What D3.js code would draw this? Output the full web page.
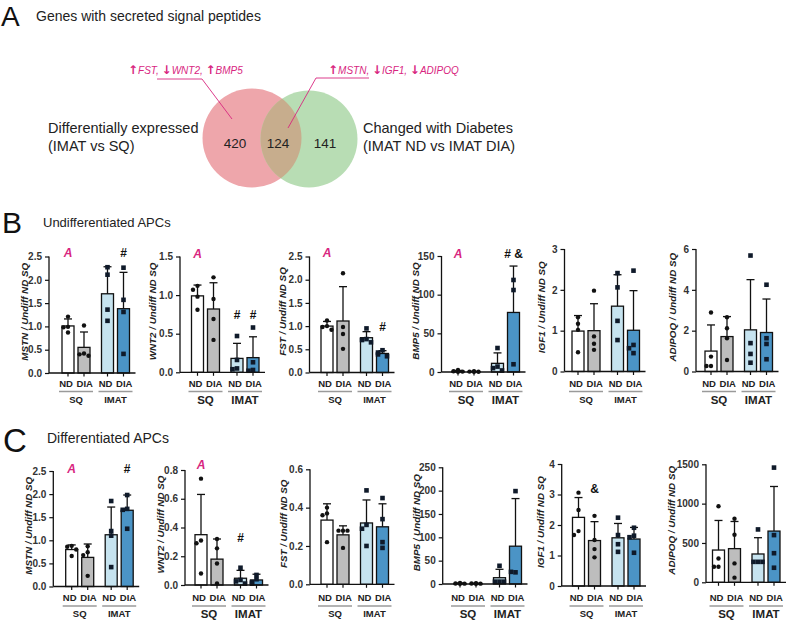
<!DOCTYPE html>
<html><head><meta charset="utf-8">
<script src="https://cdn.jsdelivr.net/npm/d3@7"></script>
<style>body{margin:0;background:#fff}</style>
</head><body><svg id="c" width="787" height="620"></svg>
<script>
// ---------------- DATA ----------------
const groups = ["ND SQ", "DIA SQ", "ND IMAT", "DIA IMAT"];
const conditionLabels = ["ND", "DIA", "ND", "DIA"];
const depotLabels = ["SQ", "IMAT"];
const genes = ["MSTN", "WNT2", "FST", "BMP5", "IGF1", "ADIPOQ"];

const vennCounts = [420, 124, 141];
const vennLeftLabel = ["Differentially expressed", "(IMAT vs SQ)"];
const vennRightLabel = ["Changed with Diabetes", "(IMAT ND vs IMAT DIA)"];

// Undifferentiated APCs (panel B)
const undiffTicks = [[0,0.5,1,1.5,2,2.5],[0,0.5,1,1.5],[0,0.5,1,1.5,2,2.5],[0,50,100,150],[0,1,2,3],[0,2,4,6]];
const undiffFormats = [".1f", ".1f", ".1f", "d", "d", "d"];
const undiffMeans = [
  [1.01, 0.55, 1.70, 1.38],
  [0.99, 0.82, 0.18, 0.19],
  [1.00, 1.11, 0.75, 0.41],
  [1.0, 0.5, 11.2, 77],
  [0.99, 1.00, 1.60, 1.01],
  [1.00, 1.71, 2.04, 1.91]
];
const undiffSD = [
  [0.15, 0.33, 0.58, 0.78],
  [0.14, 0.34, 0.195, 0.27],
  [0.10, 0.74, 0.13, 0.06],
  [1.0, 0.5, 13.5, 60],
  [0.38, 0.66, 0.77, 0.97],
  [1.28, 0.98, 2.46, 1.64]
];
const undiffPoints = [
  [[1.21,0.99,0.98,0.87],[1.02,0.42,0.40,0.37],[2.27,2.11,1.36,1.12],[2.26,1.57,1.31,0.41]],
  [[1.12,1.07,0.98,0.81],[1.23,0.95,0.69,0.42],[0.47,0.16,0.05,0.04],[0.58,0.13,0.03,0.02]],
  [[1.12,1.00,0.98,0.92],[2.14,0.98,0.83,0.51],[0.95,0.72,0.70,0.65],[0.48,0.43,0.39,0.35]],
  [[2.5,1.0,0.5,0.2],[1.0,0.5,0.3,0.2],[31,7,5,2],[119,106,10]],
  [[1.33,1.17,1.02,0.47],[1.98,0.86,0.68,0.53],[2.41,2.06,1.24,0.77],[2.47,0.65,0.57,0.45]],
  [[2.89,0.73,0.27,0.27],[2.66,2.12,1.63,0.56],[5.68,1.39,0.86,0.43],[4.25,1.63,1.35,0.60]]
];
// significance marks: [group index, text, value level]
const undiffSig = [
  [[0,"A",2.57],[3,"#",2.57]],
  [[0,"A",1.54],[2,"#",0.74],[3,"#",0.74]],
  [[0,"A",2.58],[3,"#",0.98]],
  [[0,"A",153],[3,"# &",153]],
  [],
  []
];

// Differentiated APCs (panel C)
const diffTicks = [[0,0.5,1,1.5,2,2.5],[0,0.2,0.4,0.6,0.8],[0,0.2,0.4,0.6],[0,50,100,150,200,250],[0,1,2,3,4],[0,500,1000,1500]];
const diffFormats = [".1f", ".1f", ".1f", "d", "d", "d"];
const diffMeans = [
  [0.80, 0.63, 1.12, 1.65],
  [0.35, 0.18, 0.047, 0.035],
  [0.335, 0.258, 0.32, 0.30],
  [1.2, 1.0, 13.5, 81],
  [2.25, 1.49, 1.58, 1.54],
  [410, 428, 360, 651]
];
const diffSD = [
  [0.10, 0.29, 0.60, 0.33],
  [0.28, 0.14, 0.055, 0.04],
  [0.085, 0.047, 0.12, 0.12],
  [1.0, 0.8, 18, 102],
  [0.65, 0.62, 0.47, 0.38],
  [376, 345, 207, 567]
];
const diffPoints = [
  [[0.88,0.86,0.80,0.66],[0.87,0.74,0.68,0.23],[1.85,1.20,1.10,0.42],[1.98,1.68,1.66,1.25]],
  [[0.74,0.31,0.29,0.08],[0.32,0.255,0.15,0.01],[0.12,0.035,0.025,0.01],[0.07,0.04,0.02,0.01]],
  [[0.40,0.37,0.36,0.22],[0.28,0.28,0.28,0.19],[0.49,0.31,0.29,0.20],[0.45,0.34,0.22,0.19]],
  [[2.5,1.0,0.8,0.5],[1.5,1.0,0.8,0.6],[39,5,5,5],[199,25,26]],
  [[3.06,2.49,1.80,1.67],[2.30,1.51,1.21,0.94],[2.24,1.67,1.37,1.12],[1.91,1.65,1.60,1.09]],
  [[966,302,197,197],[807,605,240,59],[672,260,260,260],[1458,600,370,185]]
];
const diffSig = [
  [[0,"A",2.55],[3,"#",2.55]],
  [[0,"A",0.835],[2,"#",0.33]],
  [],
  [],
  [[1,"&",3.18]],
  []
];

// ---------------- STYLE / LAYOUT ----------------
const barColors = ["#ffffff", "#bdbdbd", "#c6e3ef", "#4b94c6"];
const pink = "#d8267f";
const slotOffsets = [0, 16, 39.5, 55.5];
const barW = 12;
const FONT = "'Liberation Sans', Arial, sans-serif";

const rowB = {
  axisX: [49, 180, 309.5, 441.5, 564.5, 696],
  firstOff: [19, 17.5, 17.5, 16.5, 13.5, 15],
  top: [256.5, 256.5, 256.5, 256, 249, 249],
  base: [373, 372.3, 372.5, 372, 371.5, 371.5],
  labOff: [24, 27, 26.5, 25.5, 23, 23],
  condY: 387, lineY: 391.5, depotY: 404
};
const rowC = {
  axisX: [53.3, 185, 310, 442.7, 561.7, 706],
  firstOff: [18.4, 16, 17, 17.3, 16.8, 12.5],
  top: [471, 470, 469.3, 467.3, 464, 464.3],
  base: [586.5, 585, 584.3, 584, 586, 582.3],
  labOff: [25, 24, 26.5, 26, 21, 34],
  condY: 601, lineY: 606, depotY: 618
};

const svg = d3.select("#c");
svg.append("rect").attr("width",787).attr("height",620).attr("fill","#fff");

// ---------------- PANEL A ----------------
svg.append("text").attr("x",1).attr("y",25.5).style("font",`28px ${FONT}`).attr("fill","#111").text("A");
svg.append("text").attr("x",36).attr("y",21).style("font",`14px ${FONT}`).attr("fill","#222").text("Genes with secreted signal peptides");

const defs = svg.append("defs");
defs.append("clipPath").attr("id","pinkClip").append("circle").attr("cx",252).attr("cy",138).attr("r",49.5);
svg.append("circle").attr("cx",252).attr("cy",138).attr("r",49.5).attr("fill","#eea6ab");
svg.append("circle").attr("cx",309).attr("cy",139).attr("r",48.5).attr("fill","#b8ddb4");
svg.append("circle").attr("cx",309).attr("cy",139).attr("r",48.5).attr("fill","#c7ad8d").attr("clip-path","url(#pinkClip)");

const vennX = [235, 278, 325];
vennCounts.forEach((c,i)=>{
  svg.append("text").attr("x",vennX[i]).attr("y",148).attr("text-anchor","middle")
    .style("font",`13.5px ${FONT}`).attr("fill","#222").text(c);
});
vennLeftLabel.forEach((t,i)=>{
  svg.append("text").attr("x",48).attr("y",133+i*18).style("font",`14.5px ${FONT}`).attr("fill","#222").text(t);
});
vennRightLabel.forEach((t,i)=>{
  svg.append("text").attr("x",363).attr("y",133+i*18).style("font",`14.5px ${FONT}`).attr("fill","#222").text(t);
});

function annot(x, y, parts){
  const t = svg.append("text").attr("x",x).attr("y",y).style("font",`italic 10px ${FONT}`).attr("fill",pink);
  parts.forEach(p=>{
    const ts = t.append("tspan").text(p[0]);
    if (p[1]) ts.style("font",`bold 12px 'DejaVu Sans', ${FONT}`);
  });
}
annot(128, 74, [["↑",1],["FST, ",0],["↓",1],["WNT2, ",0],["↑",1],["BMP5",0]]);
annot(328, 74, [["↑",1],["MSTN, ",0],["↓",1],["IGF1, ",0],["↓",1],["ADIPOQ",0]]);
svg.append("polyline").attr("points","157,79 202,79 232,119").attr("fill","none").attr("stroke",pink).attr("stroke-width",0.9);
svg.append("polyline").attr("points","369,78 316,78 288,128").attr("fill","none").attr("stroke",pink).attr("stroke-width",0.9);

// ---------------- PANELS B & C ----------------
svg.append("text").attr("x",2).attr("y",233).style("font",`30px ${FONT}`).attr("fill","#111").text("B");
svg.append("text").attr("x",43).attr("y",227).style("font",`13px ${FONT}`).attr("fill","#222").text("Undifferentiated APCs");
svg.append("text").attr("x",3).attr("y",452).style("font",`33px ${FONT}`).attr("fill","#111").text("C");
svg.append("text").attr("x",47).attr("y",443).style("font",`14px ${FONT}`).attr("fill","#222").text("Differentiated APCs");

function drawRow(cfg, ticks, fmts, means, sds, pts, sigs){
  genes.forEach((gene, i)=>{
    const ax = cfg.axisX[i], base = cfg.base[i], top = cfg.top[i];
    const y = d3.scaleLinear().domain([0, d3.max(ticks[i])]).range([base, top]);
    const x = d3.scaleOrdinal().domain(groups).range(slotOffsets.map(o => ax + cfg.firstOff[i] + o));
    const g = svg.append("g");

    // bars
    g.selectAll("rect.bar").data(groups).join("rect").attr("class","bar")
      .attr("x", d => x(d) - barW/2)
      .attr("y", (d,j) => y(means[i][j]))
      .attr("width", barW)
      .attr("height", (d,j) => Math.max(0, base - y(means[i][j])))
      .attr("fill", (d,j) => barColors[j])
      .attr("stroke", "#111").attr("stroke-width", 1.3);

    // error bars (upper only)
    groups.forEach((d,j)=>{
      const y0 = y(means[i][j]), y1 = y(means[i][j] + sds[i][j]);
      g.append("line").attr("x1",x(d)).attr("x2",x(d)).attr("y1",y0).attr("y2",y1).attr("stroke","#111").attr("stroke-width",1.3);
      g.append("line").attr("x1",x(d)-4).attr("x2",x(d)+4).attr("y1",y1).attr("y2",y1).attr("stroke","#111").attr("stroke-width",1.3);
    });

    // individual points
    groups.forEach((d,j)=>{
      const placed = [];
      pts[i][j].forEach(v=>{
        const py = y(v);
        const k = placed.filter(p => Math.abs(p - py) < 4).length;
        placed.push(py);
        const off = [0, -4.5, 4.5, 0][k % 4];
        const px = x(d) + off;
        if (j < 2) {
          g.append("circle").attr("cx",px).attr("cy",py).attr("r",2.2).attr("fill","#111");
        } else {
          g.append("rect").attr("x",px-2.3).attr("y",py-2.3).attr("width",4.6).attr("height",4.6).attr("fill","#0f1a2a");
        }
      });
    });

    // y axis
    const yAxis = d3.axisLeft(y).tickValues(ticks[i]).tickFormat(d3.format(fmts[i])).tickSize(4).tickPadding(3);
    const ag = g.append("g").attr("transform",`translate(${ax},0)`).call(yAxis);
    ag.select(".domain").attr("stroke","#111").attr("stroke-width",1.3).attr("d",`M0,${base}V${top}`);
    ag.selectAll(".tick line").attr("stroke","#111").attr("stroke-width",1.2);
    ag.selectAll(".tick text").style("font",`bold 10px ${FONT}`).attr("fill","#333");

    // x axis
    const xEnd = x(groups[3]) + 12;
    g.append("line").attr("x1",ax).attr("x2",xEnd).attr("y1",base).attr("y2",base).attr("stroke","#111").attr("stroke-width",1.3);
    groups.forEach(d=>{
      g.append("line").attr("x1",x(d)).attr("x2",x(d)).attr("y1",base).attr("y2",base+3.5).attr("stroke","#111").attr("stroke-width",1.2);
    });
    groups.forEach((d,j)=>{
      g.append("text").attr("x",x(d) + (j % 2 === 0 ? -2 : 0.8)).attr("y",cfg.condY).attr("text-anchor","middle")
        .style("font",`bold 9.5px ${FONT}`).attr("fill","#222").text(conditionLabels[j]);
    });
    const depotSize = (i % 2 === 1) ? 11.5 : 9.5;
    depotLabels.forEach((dl,k)=>{
      const a = x(groups[2*k]), b = x(groups[2*k+1]);
      g.append("line").attr("x1",a-9).attr("x2",b+9).attr("y1",cfg.lineY).attr("y2",cfg.lineY).attr("stroke","#9a9a9a").attr("stroke-width",1.4);
      g.append("text").attr("x",(a+b)/2).attr("y",cfg.depotY - (i%2===1?0:1)).attr("text-anchor","middle")
        .style("font",`bold ${depotSize}px ${FONT}`).attr("fill","#222").text(dl);
    });

    // y label
    const lx = ax - cfg.labOff[i], ly = (top + base)/2 - 3;
    g.append("text").attr("transform",`translate(${lx},${ly}) rotate(-90)`).attr("text-anchor","middle")
      .attr("dy","0.35em").style("font",`italic bold 9.8px ${FONT}`).attr("fill","#222")
      .text(`${gene} / Undiff ND SQ`);

    // significance marks
    sigs[i].forEach(s=>{
      g.append("text").attr("x",x(groups[s[0]])).attr("y",y(s[2])).attr("dy","0.35em").attr("text-anchor","middle")
        .style("font", s[1]==="A" ? `italic bold 12px ${FONT}` : `bold 12px ${FONT}`)
        .attr("fill", s[1]==="A" ? pink : "#111").text(s[1]);
    });
  });
}

drawRow(rowB, undiffTicks, undiffFormats, undiffMeans, undiffSD, undiffPoints, undiffSig);
drawRow(rowC, diffTicks, diffFormats, diffMeans, diffSD, diffPoints, diffSig);
</script></body></html>
